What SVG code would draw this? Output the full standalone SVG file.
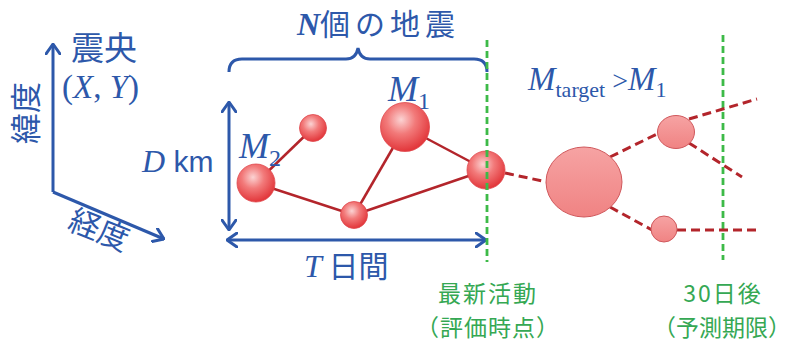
<svg xmlns="http://www.w3.org/2000/svg" width="797" height="343" viewBox="0 0 797 343">
<defs>
<radialGradient id="gPast" cx="0.42" cy="0.35" r="0.65">
<stop offset="0" stop-color="#fbd3d3"/>
<stop offset="0.45" stop-color="#f27a7a"/>
<stop offset="1" stop-color="#e2363a"/>
</radialGradient>
<linearGradient id="gFut" x1="0" y1="0" x2="0" y2="1">
<stop offset="0" stop-color="#f6a3a3"/>
<stop offset="1" stop-color="#f08383"/>
</linearGradient>
<marker id="ah" viewBox="0 0 12 16" refX="11" refY="8" markerWidth="12" markerHeight="16" markerUnits="userSpaceOnUse" orient="auto-start-reverse">
<path d="M1 1 L11 8 L1 15" fill="none" stroke="#2d58aa" stroke-width="3" stroke-linecap="round" stroke-linejoin="round"/>
</marker>
</defs>
<style>
.blue{fill:#2d58aa;}
.jp{font-family:"Noto Sans CJK JP","Noto Sans",sans-serif;}
.it{font-family:"Liberation Serif",serif;font-style:italic;}
.rm{font-family:"Liberation Serif",serif;}
.green{fill:#35a853;font-family:"Noto Sans CJK JP","Noto Sans",sans-serif;font-size:23px;}
.arr{fill:none;stroke:#2d58aa;stroke-width:3;}
.gl{stroke:#3dba48;stroke-width:2.8;stroke-dasharray:7 4;fill:none;}
.rl{stroke:#b3252b;stroke-width:2.5;fill:none;}
.rd{stroke:#b3252b;stroke-width:3;stroke-dasharray:9 5;fill:none;}
.past{fill:url(#gPast);stroke:#e0484c;stroke-width:0.8;}
.fut{fill:url(#gFut);stroke:#d0585c;stroke-width:1;}
</style>
<rect width="797" height="343" fill="#ffffff"/>

<g id="axes">
<path class="arr" d="M53 192 L53 44" marker-end="url(#ah)"/>
<path class="arr" d="M53 192 L164 239" marker-end="url(#ah)"/>
<text class="blue jp" font-size="33" x="71" y="60">震央</text>
<text class="blue rm" font-size="33" x="62" y="98">(<tspan class="it">X</tspan>, <tspan class="it">Y</tspan>)</text>
<text class="blue jp" font-size="31" transform="translate(37,113) rotate(-90)" text-anchor="middle">緯度</text>
<text class="blue jp" font-size="31" transform="translate(95,240) rotate(22)" text-anchor="middle">経度</text>
</g>

<g id="dimensions">
<path class="arr" d="M229 102 L229 230" marker-start="url(#ah)" marker-end="url(#ah)"/>
<path class="arr" d="M227 240 L486 240" marker-start="url(#ah)" marker-end="url(#ah)"/>
<path class="arr" d="M229 72 Q229 59 242 59 L346 59 Q356 59 358 48 Q360 59 370 59 L474 59 Q487 59 487 72"/>
<text class="blue" x="142" y="172" font-size="32"><tspan class="it">D</tspan><tspan font-family="Liberation Sans, sans-serif" font-size="30"> km</tspan></text>
<text class="blue" x="304" y="277" font-size="32"><tspan class="it">T</tspan><tspan class="jp" font-size="30"> 日間</tspan></text>
<text class="blue" x="297" y="35" font-size="32"><tspan class="it" font-weight="bold">N</tspan><tspan class="jp" font-size="30" letter-spacing="5">個の地震</tspan></text>
<text class="blue" x="528" y="90"><tspan class="it" font-size="33">M</tspan><tspan class="rm" font-size="22" dy="7">target</tspan><tspan class="rm" font-size="28" dy="-7"> &gt;</tspan><tspan class="it" font-size="33">M</tspan><tspan class="rm" font-size="22" dy="7">1</tspan></text>
</g>

<g id="timelines">
<line class="gl" x1="487" y1="40" x2="487" y2="262"/>
<line class="gl" x1="723" y1="35" x2="723" y2="260"/>
<text class="green" x="488" y="302" text-anchor="middle" letter-spacing="2">最新活動</text>
<text class="green" x="488" y="336" text-anchor="middle" letter-spacing="1">（評価時点）</text>
<text class="green" x="723" y="302" text-anchor="middle" letter-spacing="2">30日後</text>
<text class="green" x="722" y="336" text-anchor="middle">（予測期限）</text>
</g>

<g id="connectors">
<line class="rl" x1="256" y1="183" x2="313" y2="128"/>
<line class="rl" x1="256" y1="183" x2="354" y2="215"/>
<line class="rl" x1="354" y1="215" x2="405" y2="127"/>
<line class="rl" x1="354" y1="215" x2="486" y2="170"/>
<line class="rl" x1="405" y1="127" x2="486" y2="170"/>
<line class="rd" x1="505" y1="173" x2="547" y2="182"/>
<line class="rd" x1="610" y1="157" x2="659" y2="133"/>
<line class="rd" x1="689" y1="119" x2="757" y2="99"/>
<line class="rd" x1="689" y1="143" x2="742" y2="177"/>
<line class="rd" x1="610" y1="207" x2="652" y2="230"/>
<line class="rd" x1="677" y1="230" x2="757" y2="230"/>
</g>

<g id="eq-small-top"><circle class="past" cx="313" cy="128" r="13.5"/></g>
<g id="eq-M2"><circle class="past" cx="256" cy="183" r="19"/>
<text class="blue" x="239" y="158"><tspan class="it" font-size="36">M</tspan><tspan class="rm" font-size="24" dy="8">2</tspan></text></g>
<g id="eq-bottom"><circle class="past" cx="354" cy="215" r="13.5"/></g>
<g id="eq-M1"><circle class="past" cx="405" cy="127" r="24.5"/>
<text class="blue" x="388" y="101"><tspan class="it" font-size="36">M</tspan><tspan class="rm" font-size="24" dy="8">1</tspan></text></g>
<g id="eq-latest"><circle class="past" cx="486" cy="170" r="19"/></g>
<line class="gl" x1="487" y1="150" x2="487" y2="190"/>

<g id="eq-target"><ellipse class="fut" cx="584" cy="182" rx="38" ry="35"/></g>
<g id="eq-future-upper"><ellipse class="fut" cx="676" cy="132" rx="18.5" ry="16.5"/></g>
<g id="eq-future-lower"><circle class="fut" cx="664" cy="229" r="13"/></g>
</svg>
